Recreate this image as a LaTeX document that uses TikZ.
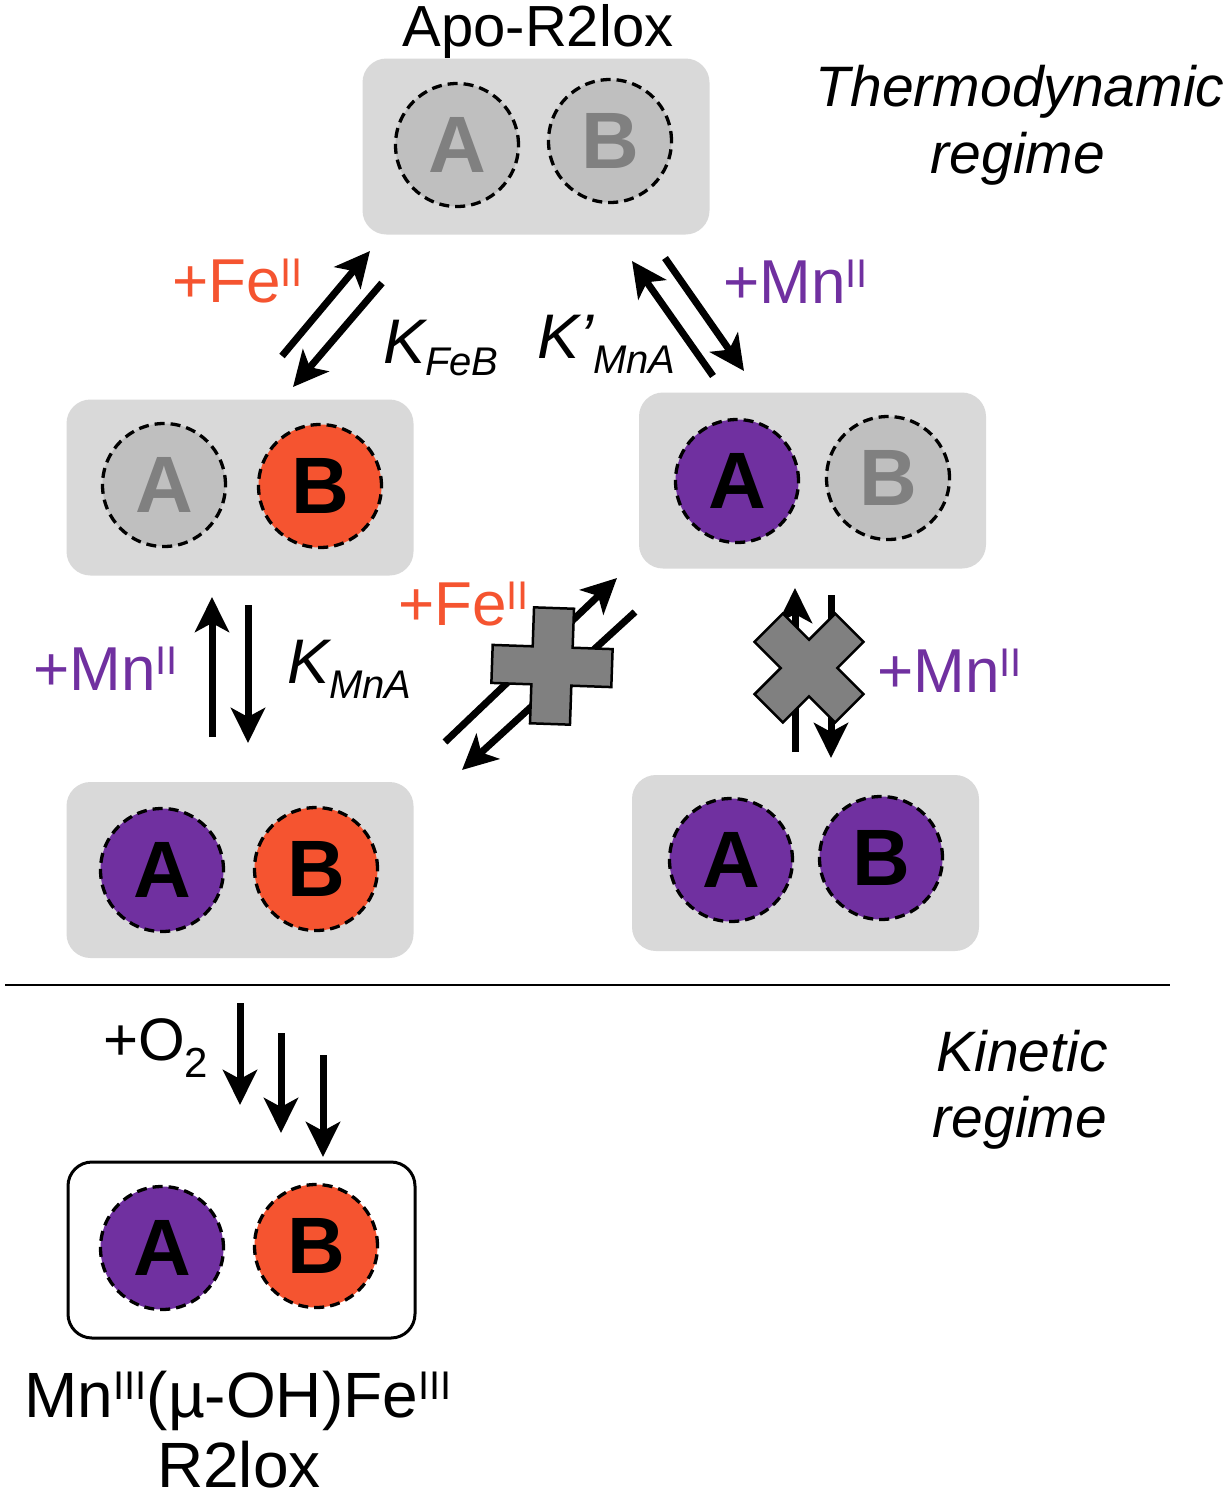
\documentclass[tikz,border=0pt]{standalone}
\usepackage{fontspec}
\setmainfont{Liberation Sans}
\usetikzlibrary{arrows.meta}
\definecolor{boxgray}{HTML}{D9D9D9}
\definecolor{emptyfill}{HTML}{BFBFBF}
\definecolor{emptytext}{HTML}{808080}
\definecolor{mnpurple}{HTML}{7030A0}
\definecolor{feorange}{HTML}{F55430}
\definecolor{crossgray}{HTML}{808080}
\newcommand\supII[1]{\raisebox{16pt}{\fontsize{40}{40}\selectfont #1}}
\newcommand\supIII[1]{\raisebox{18pt}{\fontsize{40}{40}\selectfont #1}}
\newcommand\subK[2]{\raisebox{-#1}{\fontsize{40}{40}\selectfont\itshape #2}}
\begin{document}
\begin{tikzpicture}[x=1pt,y=-1pt,
  pbox/.style={rectangle, rounded corners=24pt, fill=boxgray, minimum width=347pt, minimum height=176pt, inner sep=0pt},
  fbox/.style={pbox, fill=white, draw=black, line width=3pt},
  site/.style={circle, minimum size=123pt, inner sep=0pt, draw=black, line width=3.3pt, dash pattern=on 10pt off 6pt, font=\fontsize{80}{80}\selectfont\bfseries},
  emptysite/.style={site, fill=emptyfill, text=emptytext},
  mnsite/.style={site, fill=mnpurple, text=black},
  fesite/.style={site, fill=feorange, text=black},
  rx/.style={line width=7pt, -{Stealth[length=35pt,width=34pt,inset=9pt]}},
  lab/.style={inner sep=0pt, font=\fontsize{62}{62}\selectfont},
  klab/.style={inner sep=0pt, font=\fontsize{63}{63}\selectfont\itshape},
  reg/.style={inner sep=0pt, font=\fontsize{57}{57}\selectfont\itshape},
  crossshape/.style={fill=crossgray, draw=black, line width=2.5pt, line join=miter}]

\path[fill=white] (0,0) rectangle (1230,1500);
\useasboundingbox (0,0) rectangle (1230,1500);

% boxes
\node[pbox] (apo) at (536,146.5) {};
\node[pbox] (feB) at (240,487.5) {};
\node[pbox] (mnA) at (812.5,480.5) {};
\node[pbox] (mnfe) at (240,870) {};
\node[pbox] (mnmn) at (805.5,863) {};
\node[fbox] (final) at (241.5,1250) {};

% sites
\node[emptysite] (apoA) at (457,145) {A};
\node[emptysite] (apoB) at (610,141) {B};
\node[emptysite] (feBA) at (164,485) {A};
\node[fesite] (feBB) at (320,486) {B};
\node[mnsite] (mnAA) at (737,481) {A};
\node[emptysite] (mnAB) at (888,478) {B};
\node[mnsite] (mnfeA) at (162,870) {A};
\node[fesite] (mnfeB) at (316,869) {B};
\node[mnsite] (mnmnA) at (731,860) {A};
\node[mnsite] (mnmnB) at (881,858) {B};
\node[mnsite] (finA) at (162,1248) {A};
\node[fesite] (finB) at (316,1246) {B};

% texts
\node[inner sep=0pt, anchor=base, font=\fontsize{58}{58}\selectfont] (apolab) at (538,46) {Apo-R2lox};
\node[reg, anchor=base] (thermo) at (1020,106) {Thermodynamic};
\node[reg, anchor=base] (thermo2) at (1018,173) {regime};
\node[lab, anchor=base west, text=feorange] (fe1) at (172,302) {+Fe\supII{II}};
\node[klab, anchor=base west] (kfeb) at (383,363) {K\subK{12pt}{FeB}};
\node[klab, anchor=base west] (kmnap) at (537,358) {K’\subK{15pt}{MnA}};
\node[lab, anchor=base west, text=mnpurple] (mn1) at (723,303) {+Mn\supII{II}};
\node[lab, anchor=base west, text=mnpurple] (mn2) at (33,690) {+Mn\supII{II}};
\node[klab, anchor=base west] (kmna) at (287,683) {K\subK{15pt}{MnA}};
\node[lab, anchor=base west, text=feorange] (fe2) at (398,625) {+Fe\supII{II}};
\node[lab, anchor=base west, text=mnpurple] (mn3) at (877,692) {+Mn\supII{II}};
\node[inner sep=0pt, anchor=base west, font=\fontsize{60}{60}\selectfont] (o2) at (103,1060) {+O\raisebox{-17pt}{\fontsize{42}{42}\selectfont 2}};
\node[reg, anchor=base] (kin) at (1022,1071) {Kinetic};
\node[reg, anchor=base] (kin2) at (1020,1137) {regime};
\node[inner sep=0pt, anchor=base, font=\fontsize{64}{64}\selectfont] (prod) at (238,1417) {Mn\supIII{III}(µ-OH)Fe\supIII{III}};
\node[inner sep=0pt, anchor=base, font=\fontsize{64}{64}\selectfont] (prod2) at (239,1487) {R2lox};

% divider
\coordinate (divL) at (5,985);
\coordinate (divR) at (1170,985);
\draw[line width=2.5pt] (divL) -- (divR);

% arrow end points
\coordinate (a1s) at (282,356); \coordinate (a1e) at (370,251);
\coordinate (a2s) at (382,283); \coordinate (a2e) at (293,387);
\coordinate (a3s) at (713,376); \coordinate (a3e) at (632,261);
\coordinate (a4s) at (665,258); \coordinate (a4e) at (744,371);
\coordinate (a5s) at (212,737); \coordinate (a5e) at (212,597);
\coordinate (a6s) at (248,605); \coordinate (a6e) at (248,743);
\coordinate (a7s) at (445,742); \coordinate (a7e) at (617,578);
\coordinate (a8s) at (635,612); \coordinate (a8e) at (462,770);
\coordinate (a9s) at (795,752); \coordinate (a9e) at (795,588);
\coordinate (a10s) at (831,595); \coordinate (a10e) at (831,758);
\coordinate (o1s) at (240,1003); \coordinate (o1e) at (240,1105);
\coordinate (o2s) at (281,1033); \coordinate (o2e) at (281,1133);
\coordinate (o3s) at (323,1055); \coordinate (o3e) at (323,1157);

\draw[rx] (a1s) -- (a1e);
\draw[rx] (a2s) -- (a2e);
\draw[rx] (a3s) -- (a3e);
\draw[rx] (a4s) -- (a4e);
\draw[rx] (a5s) -- (a5e);
\draw[rx] (a6s) -- (a6e);
\draw[rx] (a7s) -- (a7e);
\draw[rx] (a8s) -- (a8e);
\draw[rx] (a9s) -- (a9e);
\draw[rx] (a10s) -- (a10e);
\draw[rx] (o1s) -- (o1e);
\draw[rx] (o2s) -- (o2e);
\draw[rx] (o3s) -- (o3e);

% crosses
\begin{scope}[shift={(552,666)}, rotate=-2]
\draw[crossshape] (-20,-58) -- (20,-58) -- (20,-19) -- (60,-19) -- (60,19) -- (20,19) -- (20,58) -- (-20,58) -- (-20,19) -- (-60,19) -- (-60,-19) -- (-20,-19) -- cycle;
\end{scope}
\begin{scope}[shift={(809,668)}, rotate=45]
\draw[crossshape] (-20,-57) -- (20,-57) -- (20,-20) -- (57,-20) -- (57,20) -- (20,20) -- (20,57) -- (-20,57) -- (-20,20) -- (-57,20) -- (-57,-20) -- (-20,-20) -- cycle;
\end{scope}
\end{tikzpicture}
\end{document}
